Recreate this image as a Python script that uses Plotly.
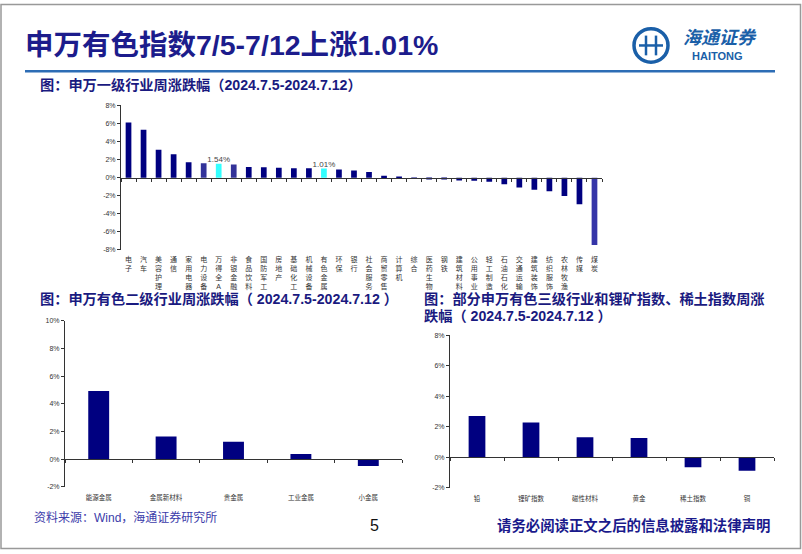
import plotly.graph_objects as go

# 申万一级行业周涨跌幅 (2024.7.5-2024.7.12)
industries = ['电子', '汽车', '美容护理', '通信', '家用电器', '电力设备', '万得全A', '非银金融',
              '食品饮料', '国防军工', '房地产', '基础化工', '机械设备', '有色金属', '环保', '银行',
              '社会服务', '商贸零售', '计算机', '综合', '医药生物', '钢铁', '建筑材料', '公用事业',
              '轻工制造', '石油石化', '交通运输', '建筑装饰', '纺织服饰', '农林牧渔', '传媒', '煤炭']
industry_chg = [6.1, 5.3, 3.1, 2.6, 1.7, 1.6, 1.54, 1.45,
                1.17, 1.15, 1.1, 1.05, 1.03, 1.01, 0.9, 0.8,
                0.62, 0.22, 0.05, 0.02, -0.1, -0.12, -0.33, -0.35,
                -0.45, -0.73, -1.1, -1.35, -1.5, -2.04, -2.95, -7.47]

# 申万有色二级行业
sub_industries = ['能源金属', '金属新材料', '贵金属', '工业金属', '小金属']
sub_chg = [4.93, 1.64, 1.26, 0.38, -0.5]

# 三级行业和锂矿指数、稀土指数
third_items = ['铅', '锂矿指数', '磁性材料', '黄金', '稀土指数', '铜']
third_chg = [2.7, 2.27, 1.3, 1.25, -0.67, -0.89]

W, H = 802, 554
NAVY = '#000080'
TXT_BLUE = '#1a1a80'
CJK = 'Liberation Sans, Noto Sans CJK SC'


def px(x):
    return x / W


def py(y):
    return 1 - y / H


fig = go.Figure()

# 强调的柱子颜色
highlight = {'万得全A', '有色金属'}
lighter = {'电力设备', '非银金融'}
colors = []
for name in industries:
    if name in highlight:
        colors.append('#33ffff')
    elif name in lighter:
        colors.append('#333399')
    elif name == '煤炭':
        colors.append('#3535a8')
    else:
        colors.append(NAVY)
labels = [f'{v:.2f}%' if n in highlight else '' for n, v in zip(industries, industry_chg)]

panels = [
    # (cats, vals, colors, text, xdom(px), ydom(px), yrange, vertical labels, bargap)
    (industries, industry_chg, colors, labels, (121, 602), (249, 102.7), (-8, 8), True, 0.62),
    (sub_industries, sub_chg, [NAVY] * len(sub_chg), None, (65, 402), (489, 321), (-2, 10), False, 0.69),
    (third_items, third_chg, [NAVY] * len(third_chg), None, (450, 774), (489.7, 335.7), (-2, 8), False, 0.69),
]

layout_axes = {}
for k, (cats, vals, cols, txt, xd, yd, yr, vert, gap) in enumerate(panels):
    xa = 2 * k + 1
    xb = 2 * k + 2
    ya = k + 1
    n = len(cats)
    xs = list(range(n))
    fig.add_trace(go.Bar(
        x=xs, y=vals, marker=dict(color=cols, line=dict(width=0)),
        text=txt, textposition='outside', cliponaxis=False, constraintext='none',
        textfont=dict(size=8, color='#444', family='Liberation Sans'),
        xaxis=f'x{xa}', yaxis=f'y{ya}', width=1 - gap, showlegend=False,
    ))
    # 零轴上的分隔刻度
    fig.add_trace(go.Scatter(x=[xs[0], xs[-1]], y=[0, 0], mode='markers', marker=dict(opacity=0),
                             xaxis=f'x{xb}', yaxis=f'y{ya}', showlegend=False, hoverinfo='skip'))
    xdom = [px(xd[0]), px(xd[1])]
    ydom = [py(yd[0]), py(yd[1])]
    zero_pos = ydom[0] + (0 - yr[0]) / (yr[1] - yr[0]) * (ydom[1] - ydom[0])
    ticktext = ['<br>'.join(list(c)) for c in cats] if vert else cats
    yticks = list(range(yr[0], yr[1] + 1, 2))
    layout_axes[f'xaxis{xa}'] = dict(
        domain=xdom, range=[-0.5, n - 0.5], anchor=f'y{ya}', tickvals=xs, ticktext=ticktext,
        showline=False, ticks='', showgrid=False, zeroline=False,
        tickfont=dict(size=7 if vert else 6.5, color='#333', family=CJK),
        ticklabelstandoff=4 if vert else 6,
    )
    layout_axes[f'xaxis{xb}'] = dict(
        domain=xdom, range=[-0.5, n - 0.5], overlaying=f'x{xa}', anchor='free', position=zero_pos,
        tickvals=[i - 0.5 for i in range(n + 1)], showticklabels=False,
        ticks='outside', ticklen=3, tickcolor='#333', showline=True, linecolor='#333', linewidth=1,
        showgrid=False, zeroline=False,
    )
    layout_axes[f'yaxis{ya}'] = dict(
        domain=ydom, range=list(yr), anchor=f'x{xa}', tickvals=yticks,
        ticktext=[f'{v}%' for v in yticks],
        showline=True, linecolor='#333', linewidth=1, ticks='outside', ticklen=3,
        tickcolor='#333', showgrid=False, zeroline=False,
        tickfont=dict(size=7, color='#333', family='Liberation Sans'),
    )

fig.update_layout(**layout_axes)

ann = [
    dict(x=px(23), y=py(42), text='<b>申万有色指数7/5-7/12上涨1.01%</b>',
         font=dict(size=28.5, color='#1c1c8c', family=CJK)),
    dict(x=px(38), y=py(82), text='<b>图：申万一级行业周涨跌幅（2024.7.5-2024.7.12）</b>',
         font=dict(size=14.2, color=TXT_BLUE, family=CJK)),
    dict(x=px(38), y=py(299), text='<b>图：申万有色二级行业周涨跌幅（ 2024.7.5-2024.7.12 ）</b>',
         font=dict(size=14.2, color=TXT_BLUE, family=CJK)),
    dict(x=px(422), y=py(299), text='<b>图：部分申万有色三级行业和锂矿指数、稀土指数周涨</b>',
         font=dict(size=14.2, color=TXT_BLUE, family=CJK)),
    dict(x=px(422), y=py(316), text='<b>跌幅（ 2024.7.5-2024.7.12 ）</b>',
         font=dict(size=14.2, color=TXT_BLUE, family=CJK)),
    dict(x=px(32), y=py(520), text='资料来源：Wind，海通证券研究所',
         font=dict(size=12, color='#3c3caa', family=CJK)),
    dict(x=px(368), y=py(528), text='5', font=dict(size=16, color='#111', family='Liberation Sans')),
    dict(x=px(495), y=py(528), text='<b>请务必阅读正文之后的信息披露和法律声明</b>',
         font=dict(size=14.4, color='#1a1a8c', family=CJK)),
    dict(x=px(681), y=py(34), text='<i><b>海通证券</b></i>',
         font=dict(size=18, color='#1a5fa8', family=CJK)),
    dict(x=px(690), y=py(53), text='<b>HAITONG</b>',
         font=dict(size=11, color='#1a5fa8', family='Liberation Sans')),
]
for a in ann:
    a.update(xref='paper', yref='paper', xanchor='left', yanchor='middle', showarrow=False)

shapes = [
    # 外框
    dict(type='rect', x0=px(1), x1=px(800.5), y0=py(551.5), y1=py(0.5),
         line=dict(color='#999', width=1.5)),
    # 标题下的蓝线
    dict(type='line', x0=px(25), x1=px(775), y0=py(68), y1=py(68),
         line=dict(color='#2d6db5', width=2.5)),
    # 标志
    dict(type='circle', x0=px(634), x1=px(668), y0=py(59), y1=py(25),
         line=dict(color='#1a5fa8', width=3.5)),
    dict(type='line', x0=px(646), x1=px(646), y0=py(52), y1=py(32), line=dict(color='#1a5fa8', width=2.5)),
    dict(type='line', x0=px(656), x1=px(656), y0=py(52), y1=py(32), line=dict(color='#1a5fa8', width=2.5)),
    dict(type='line', x0=px(639), x1=px(663), y0=py(42), y1=py(42), line=dict(color='#1a5fa8', width=2.5)),
]
for s in shapes:
    s.update(xref='paper', yref='paper')

fig.update_layout(
    width=W, height=H, margin=dict(l=0, r=0, t=0, b=0),
    paper_bgcolor='white', plot_bgcolor='white',
    annotations=ann, shapes=shapes, bargap=0.6,
)

fig.write_html('out.html', config={'displayModeBar': False},
               post_script="document.body.style.margin='0';")
